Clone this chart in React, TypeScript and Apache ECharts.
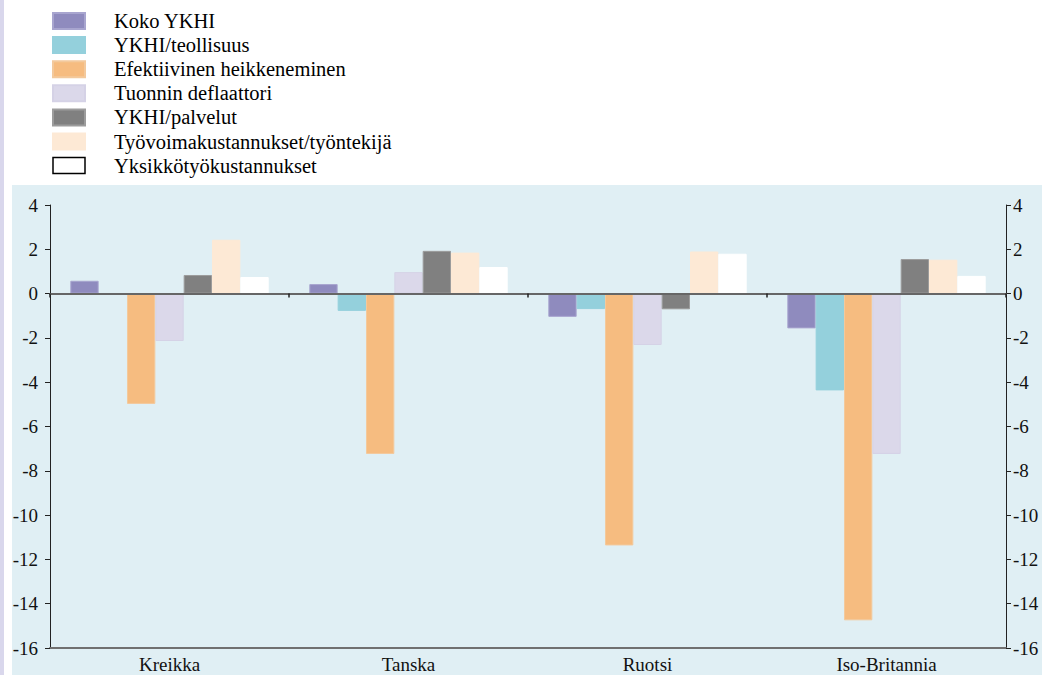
import React, { useEffect, useRef } from "react";
import * as echarts from "echarts";

const categories = ["Kreikka", "Tanska", "Ruotsi", "Iso-Britannia"];
const seriesNames = [
  "Koko YKHI",
  "YKHI/teollisuus",
  "Efektiivinen heikkeneminen",
  "Tuonnin deflaattori",
  "YKHI/palvelut",
  "Työvoimakustannukset/työntekijä",
  "Yksikkötyökustannukset",
];
const kokoYkhi = [0.58, 0.43, -1.05, -1.57];
const ykhiTeollisuus = [-0.05, -0.78, -0.7, -4.37];
const efektiivinen = [-4.98, -7.24, -11.37, -14.75];
const tuonninDeflaattori = [-2.14, 0.97, -2.32, -7.24];
const ykhiPalvelut = [0.84, 1.93, -0.71, 1.56];
const tyovoima = [2.43, 1.85, 1.9, 1.53];
const yksikko = [0.75, 1.2, 1.8, 0.8];
const yTicks = [4, 2, 0, -2, -4, -6, -8, -10, -12, -14, -16];

const seriesData = [kokoYkhi, ykhiTeollisuus, efektiivinen, tuonninDeflaattori, ykhiPalvelut, tyovoima, yksikko];
const colors = ["#8f8bbe", "#94d0dc", "#f6bc80", "#dbd8ea", "#808080", "#fde9d5", "#ffffff"];
const borders = ["#a8a5cf", "#94d0dc", "#f3c99c", "#d5d2e6", "#9c9c9c", "#fde9d5", "#ffffff"];

const FONT = "Liberation Serif";

export default function App() {
  const ref = useRef<HTMLDivElement>(null);
  useEffect(() => {
    if (!ref.current) return;
    const chart = echarts.init(ref.current, undefined, { renderer: "svg" });
    const yAxisCommon = {
      type: "value",
      min: yTicks[yTicks.length - 1],
      max: yTicks[0],
      interval: 2,
      axisLine: { show: true, lineStyle: { color: "#222", width: 1 } },
      axisTick: { show: true, length: 5, lineStyle: { color: "#222" } },
      splitLine: { show: false },
    };
    chart.setOption({
      animation: false,
      textStyle: { fontFamily: FONT },
      graphic: [
        { type: "rect", z: -10, shape: { x: 0, y: 0, width: 4, height: 675 }, style: { fill: "#d9d7ec" } },
        { type: "rect", z: -10, shape: { x: 12, y: 185, width: 1030, height: 490 }, style: { fill: "#e0eff4" } },
      ],
      legend: {
        orient: "vertical",
        left: 52,
        top: 10.5,
        padding: 0,
        itemWidth: 32,
        itemHeight: 16,
        itemGap: 3.1,
        data: seriesNames.map((n, i) => ({
          name: n,
          icon: "rect",
          itemStyle: i === 6 ? { color: "#fff", borderColor: "#000", borderWidth: 1.5 } : { color: colors[i] },
        })),
        textStyle: { fontFamily: FONT, fontSize: 20.5, color: "#000", padding: [0, 0, 0, 24] },
      },
      grid: { left: 50, right: 36, top: 205, bottom: 27 },
      xAxis: [
        {
          type: "category",
          data: categories,
          position: "bottom",
          axisLine: { onZero: false, show: true, lineStyle: { color: "#707070", width: 2 } },
          axisTick: { show: false },
          axisLabel: { color: "#111", fontFamily: FONT, fontSize: 19, margin: 7 },
        },
        {
          type: "category",
          data: categories,
          position: "bottom",
          z: 5,
          axisLine: { onZero: true, show: true, lineStyle: { color: "#666", width: 2 } },
          axisTick: { show: true, length: 4, lineStyle: { color: "#222", width: 1.5 } },
          axisLabel: { show: false },
        },
      ],
      yAxis: [
        { ...yAxisCommon, position: "left", axisLabel: { color: "#111", fontFamily: FONT, fontSize: 19, margin: 12 } },
        { ...yAxisCommon, position: "right", axisLabel: { color: "#111", fontFamily: FONT, fontSize: 19, margin: 7 } },
      ],
      series: seriesNames.map((n, i) => ({
        name: n,
        type: "bar",
        xAxisIndex: 0,
        yAxisIndex: 0,
        data: seriesData[i],
        barGap: "0%",
        barCategoryGap: "17%",
        itemStyle: { color: colors[i], borderColor: borders[i], borderWidth: 1 },
      })),
    });
    return () => chart.dispose();
  }, []);
  return <div ref={ref} style={{ position: "absolute", left: 0, top: 0, width: 1042, height: 675 }} />;
}
